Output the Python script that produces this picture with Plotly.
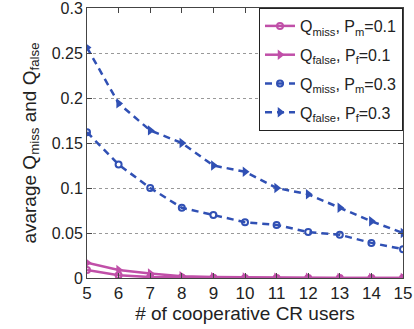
import plotly.graph_objects as go

users = [5, 6, 7, 8, 9, 10, 11, 12, 13, 14, 15]
q_miss_01 = [0.009, 0.003, 0.001, 0.0005, 0.0002, 0.0001, 0, 0, 0, 0, 0]
q_false_01 = [0.017, 0.009, 0.005, 0.002, 0.001, 0.0005, 0.0003, 0.0002, 0.0001, 0, 0]
q_miss_03 = [0.162, 0.126, 0.100, 0.078, 0.070, 0.062, 0.059, 0.051, 0.048, 0.039, 0.032]
q_false_03 = [0.256, 0.194, 0.164, 0.150, 0.125, 0.118, 0.100, 0.093, 0.078, 0.063, 0.050]

pink = "#c04fa8"
blue = "#3050b4"

fig = go.Figure()
fig.add_trace(go.Scatter(x=users, y=q_miss_01, mode="lines+markers",
    name="Q<sub>miss</sub>, P<sub>m</sub>=0.1", legendgroup="a",
    line=dict(color=pink, width=2.5),
    marker=dict(symbol="circle-open", size=6, color=pink, line=dict(width=2))))
fig.add_trace(go.Scatter(x=users, y=q_false_01, mode="lines+markers",
    name="Q<sub>false</sub>, P<sub>f</sub>=0.1", legendgroup="b",
    line=dict(color=pink, width=2.5),
    marker=dict(symbol="triangle-right", size=9, color=pink)))
fig.add_trace(go.Scatter(x=users, y=q_miss_03, mode="lines+markers",
    name="Q<sub>miss</sub>, P<sub>m</sub>=0.3", legendgroup="c",
    line=dict(color=blue, width=2.5, dash="7px,5px"),
    marker=dict(symbol="circle-open", size=6, color=blue, line=dict(width=2))))
fig.add_trace(go.Scatter(x=users, y=q_false_03, mode="lines+markers",
    name="Q<sub>false</sub>, P<sub>f</sub>=0.3", legendgroup="d",
    line=dict(color=blue, width=2.5, dash="7px,5px"),
    marker=dict(symbol="triangle-right", size=9, color=blue)))

fig.update_layout(
    width=414, height=329,
    margin=dict(l=87, r=11, t=8, b=51),
    paper_bgcolor="white", plot_bgcolor="white",
    font=dict(family="Liberation Sans, Arial, sans-serif", size=15, color="#222"),
    showlegend=True,
    legend=dict(x=1, y=1, xanchor="right", yanchor="top",
                bordercolor="#222", borderwidth=1, bgcolor="white",
                font=dict(size=16), tracegroupgap=5, itemwidth=30),
    xaxis=dict(range=[5, 15], tickvals=users, showgrid=False, automargin=False,
               showline=True, linecolor="#444", linewidth=1, mirror="ticks",
               ticks="inside", ticklen=5, tickcolor="#444", zeroline=False,
               tickfont=dict(size=17), ticklabeloverflow="allow",
               title=dict(text="# of cooperative CR users", standoff=2, font=dict(size=19))),
    yaxis=dict(range=[0, 0.3], tickvals=[0, 0.05, 0.1, 0.15, 0.2, 0.25, 0.3],
               ticktext=["0", "0.05", "0.1", "0.15", "0.2", "0.25", "0.3"], automargin=False,
               showgrid=True, gridcolor="#999", griddash="dot", gridwidth=1,
               showline=True, linecolor="#444", linewidth=1, mirror="ticks",
               ticks="inside", ticklen=5, tickcolor="#444", zeroline=False,
               tickfont=dict(size=16), ticklabeloverflow="allow",
               title=dict(text="avarage Q<sub>miss</sub> and Q<sub>false</sub>", standoff=10, font=dict(size=19))),
)

fig.write_html("out.html", config={"displayModeBar": False},
               post_script="document.body.style.margin='0';document.body.style.overflow='hidden';")
